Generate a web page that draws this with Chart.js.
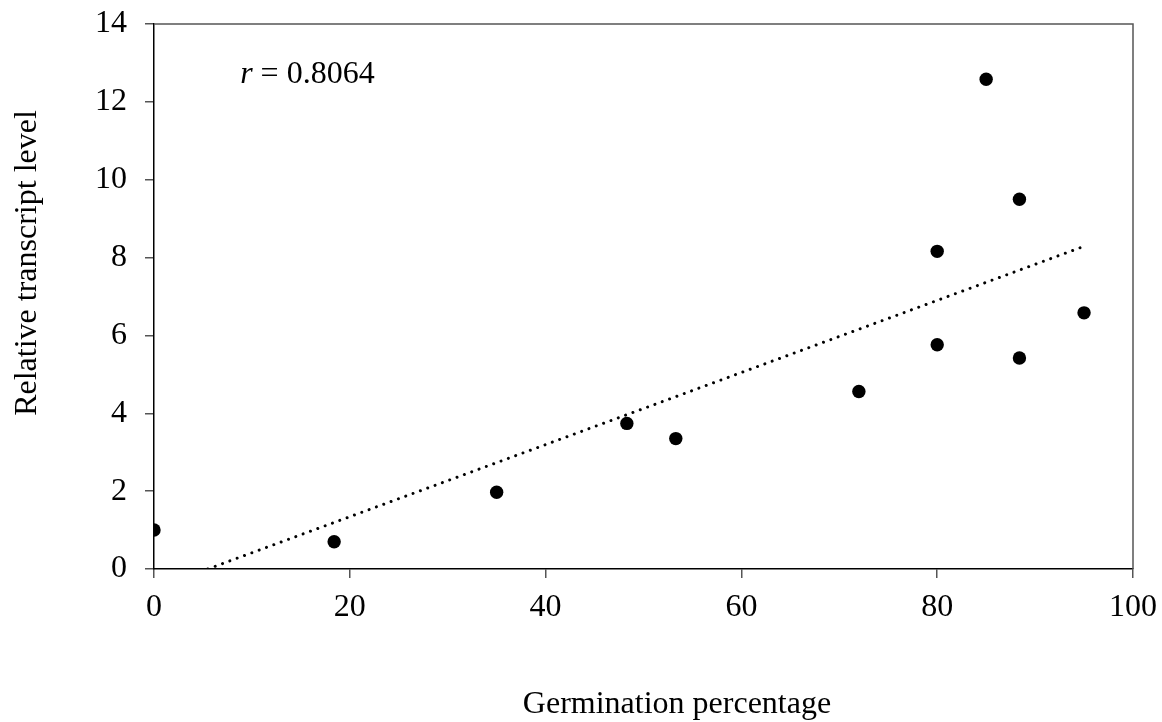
<!DOCTYPE html>
<html>
<head>
<meta charset="utf-8">
<title>Germination vs transcript level</title>
<script src="https://cdn.jsdelivr.net/npm/chart.js@4"></script>
<style>
  html, body { margin: 0; padding: 0; background: #fff; }
  #wrap { width: 1162px; height: 722px; }
</style>
</head>
<body>
<div id="wrap"><canvas id="chart" width="1162" height="722"></canvas></div>
<script>
// Scatter data
const germination = [0, 18.4, 35, 48.3, 53.3, 72, 80, 80, 85, 88.4, 88.4, 95];
const transcript = [1.0, 0.7, 1.97, 3.74, 3.35, 4.56, 8.16, 5.76, 12.58, 9.5, 5.42, 6.58];

// Regression line ends
const fitX = [5.5, 94.9];
const fitY = [0, 8.28];

const xTicks = [0, 20, 40, 60, 80, 100];
const yTicks = [0, 2, 4, 6, 8, 10, 12, 14];

const xTitle = "Germination percentage";
const yTitle = "Relative transcript level";
const rLabel = "0.8064";

const serif = "'Liberation Serif', 'DejaVu Serif', serif";
const fs = 32;

// frame, axis titles and r annotation
const framePlugin = {
    id: "frame",
    afterDraw(chart) {
        const { ctx, chartArea: a, scales } = chart;
        ctx.save();
        ctx.strokeStyle = "#555";
        ctx.lineWidth = 1.5;
        ctx.beginPath();
        ctx.moveTo(a.left, a.top);
        ctx.lineTo(a.right, a.top);
        ctx.lineTo(a.right, a.bottom);
        ctx.stroke();

        ctx.fillStyle = "#000";
        ctx.textBaseline = "alphabetic";
        ctx.font = fs + "px " + serif;

        // x title
        ctx.textAlign = "center";
        ctx.fillText(xTitle, 677, 713);

        // y title
        ctx.save();
        ctx.translate(36, 263);
        ctx.rotate(-Math.PI / 2);
        ctx.fillText(yTitle, 0, 0);
        ctx.restore();

        // r = ...
        const px = scales.x.getPixelForValue(8.8);
        const py = scales.y.getPixelForValue(12.7);
        ctx.textBaseline = "middle";
        ctx.textAlign = "left";
        ctx.font = "italic " + fs + "px " + serif;
        ctx.fillText("r", px, py);
        const w = ctx.measureText("r").width;
        ctx.font = fs + "px " + serif;
        ctx.fillText(" = " + rLabel, px + w, py);
        ctx.restore();
    }
};

new Chart(document.getElementById("chart"), {
    type: "scatter",
    data: {
        datasets: [
            {
                label: "samples",
                data: germination.map((x, i) => ({ x, y: transcript[i] })),
                backgroundColor: "#000",
                borderWidth: 0,
                pointRadius: 6.7,
                pointHoverRadius: 6.7
            },
            {
                label: "fit",
                type: "line",
                data: fitX.map((x, i) => ({ x, y: fitY[i] })),
                borderColor: "#000",
                borderWidth: 3,
                borderDash: [0.01, 7.8],
                borderCapStyle: "round",
                pointRadius: 0,
                fill: false
            }
        ]
    },
    options: {
        responsive: false,
        animation: false,
        devicePixelRatio: 1,
        layout: { padding: { top: 24, right: 29, left: 0, bottom: 0 } },
        plugins: {
            legend: { display: false },
            tooltip: { enabled: false }
        },
        scales: {
            x: {
                type: "linear",
                min: 0,
                max: 100,
                afterBuildTicks: s => { s.ticks = xTicks.map(v => ({ value: v })); },
                afterFit: s => { s.height = 722 - 569; s.paddingLeft = 0; s.paddingRight = 0; },
                grid: { drawOnChartArea: false, tickLength: 9, color: "#555", lineWidth: 1.5 },
                border: { color: "#000", width: 1.5 },
                ticks: { color: "#000", padding: 10, maxRotation: 0, font: { family: serif, size: fs } }
            },
            y: {
                type: "linear",
                min: 0,
                max: 14,
                afterBuildTicks: s => { s.ticks = yTicks.map(v => ({ value: v })); },
                afterFit: s => { s.width = 154; s.paddingTop = 0; s.paddingBottom = 0; },
                grid: { drawOnChartArea: false, tickLength: 9, color: "#555", lineWidth: 1.5 },
                border: { color: "#000", width: 1.5 },
                ticks: { color: "#000", padding: 18, font: { family: serif, size: fs } }
            }
        }
    },
    plugins: [framePlugin]
});
</script>
</body>
</html>
